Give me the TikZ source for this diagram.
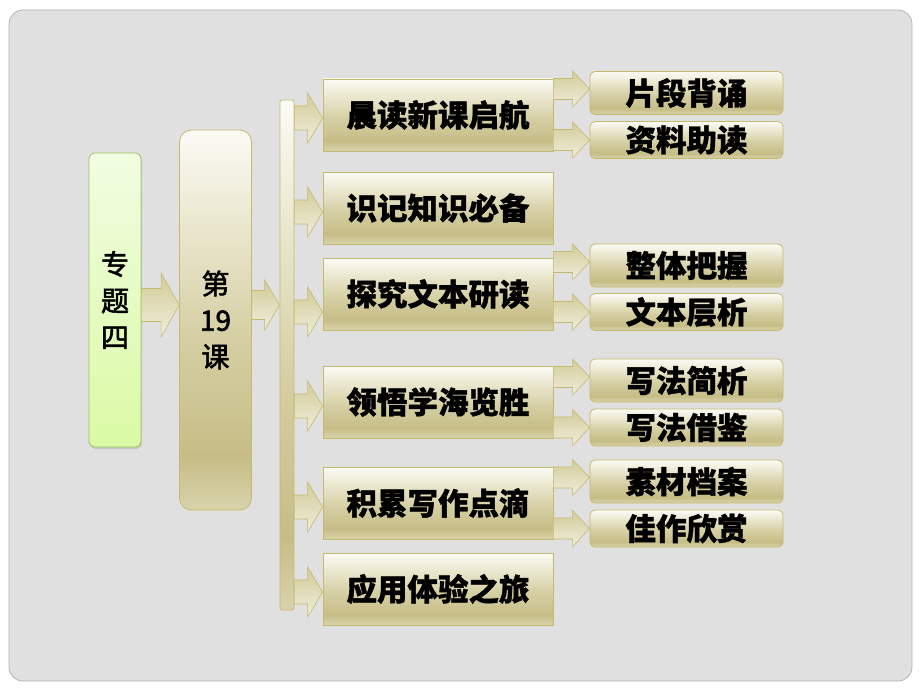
\documentclass[tikz,border=0pt]{standalone}
\usepackage{fontspec}
\newfontfamily\cjk{Noto Sans CJK SC}[BoldFeatures={FakeBold=1.2}]
\newfontfamily\cjkmed{Noto Sans CJK SC}[FakeBold=2]
\usetikzlibrary{calc,shadows}
\definecolor{kA}{HTML}{FBFBF6}
\definecolor{kB}{HTML}{EEEBD6}
\definecolor{kC}{HTML}{D5CEA2}
\definecolor{kD}{HTML}{C6BD86}
\definecolor{kE}{HTML}{D9D3AC}
\definecolor{bdr}{HTML}{C4BA6E}
\definecolor{arrT}{HTML}{D2CB98}
\definecolor{arrB}{HTML}{F0EEDC}
\definecolor{gT}{HTML}{F1FDE2}
\definecolor{gB}{HTML}{DAFAA4}
\definecolor{gbdr}{HTML}{9EC263}
\definecolor{panel}{HTML}{E0E0E0}
\definecolor{panelbd}{HTML}{B4B4B4}
\pgfdeclareverticalshading{khakibox}{100bp}{color(0bp)=(kE); color(25bp)=(kE); color(32bp)=(kD); color(47bp)=(kC); color(65bp)=(kB); color(75bp)=(kA); color(100bp)=(kA)}
\newcommand\blockarrow[5]{%
  \path[arrowsty] let \p1=(#1), \p2=(#2) in
    (\x1,{\y2+#3}) -- ({\x2-#5},{\y2+#3}) -- ({\x2-#5},{\y2+#4}) -- (\x2,\y2)
    -- ({\x2-#5},{\y2-#4}) -- ({\x2-#5},{\y2-#3}) -- (\x1,{\y2-#3}) -- cycle;}
\tikzset{
  arrowsty/.style={draw=bdr, line width=0.6pt, top color=arrT, bottom color=arrB},
  khaki/.style={draw=bdr, line width=0.8pt, shading=khakibox, inner sep=0pt},
  mainbox/.style={khaki, minimum width=230pt, minimum height=72pt,
    font=\cjk\bfseries\fontsize{30.5}{31}\selectfont},
  subbox/.style={khaki, rounded corners=5pt, minimum width=193pt,
    font=\cjk\bfseries\fontsize{30.5}{31}\selectfont},
  subtop/.style={subbox, minimum height=43pt},
  subbot/.style={subbox, minimum height=37pt},
  coltext/.style={align=center, font=\cjkmed\fontsize{28}{36.5}\selectfont},
}
\begin{document}
\begin{tikzpicture}[x=1pt,y=-1pt]
\useasboundingbox (0,0) rectangle (920,690);
\fill[white] (0,0) rectangle (920,690);
\path[fill=panel, draw=panelbd, line width=0.8pt, rounded corners=14pt] (9,10) rectangle (912,681);

% left column
\node[draw=gbdr, line width=0.8pt, top color=gT, bottom color=gB, rounded corners=6pt,
  minimum width=52pt, minimum height=294pt, inner sep=0pt,
  drop shadow={opacity=0.25, shadow xshift=1pt, shadow yshift=-2pt},
  coltext] (g) at (115,300) {专\\题\\四};
\node[khaki, rounded corners=12pt, minimum width=72pt, minimum height=380pt,
  coltext] (k) at (215.5,320) {第\\19\\课};
\node[khaki, rounded corners=2pt, minimum width=14pt, minimum height=510pt] (bar) at (287,355) {};

% main boxes
\node[mainbox] (m1) at (438,115) {晨读新课启航};
\node[mainbox] (m2) at (438,208) {识记知识必备};
\node[mainbox] (m3) at (438,294) {探究文本研读};
\node[mainbox] (m4) at (438,402) {领悟学海览胜};
\node[mainbox] (m5) at (438,503) {积累写作点滴};
\node[mainbox] (m6) at (438,589) {应用体验之旅};

% sub boxes
\node[subtop] (sa1) at (686.5,93) {片段背诵};
\node[subbot] (sa2) at (686.5,140) {资料助读};
\node[subtop] (sb1) at (686.5,265.5) {整体把握};
\node[subbot] (sb2) at (686.5,312) {文本层析};
\node[subtop] (sc1) at (686.5,380.5) {写法简析};
\node[subbot] (sc2) at (686.5,427.5) {写法借鉴};
\node[subtop] (sd1) at (686.5,481.5) {素材档案};
\node[subbot] (sd2) at (686.5,528.5) {佳作欣赏};

% big arrows
\blockarrow{g.east}{[yshift=15pt]k.west}{16.5pt}{32pt}{18pt}
\blockarrow{k.east}{[yshift=50pt]bar.west}{14.5pt}{25pt}{15pt}

% arrows from bar
\blockarrow{bar.east}{[yshift=-3pt]m1.west}{12pt}{25pt}{15pt}
\blockarrow{bar.east}{[yshift=-4pt]m2.west}{12pt}{25pt}{15pt}
\blockarrow{bar.east}{[yshift=-18pt]m3.west}{12pt}{25pt}{15pt}
\blockarrow{bar.east}{[yshift=-4pt]m4.west}{12pt}{25pt}{15pt}
\blockarrow{bar.east}{[yshift=-4pt]m5.west}{12pt}{25pt}{15pt}
\blockarrow{bar.east}{[yshift=-3pt]m6.west}{12pt}{25pt}{15pt}

% arrows to sub boxes
\blockarrow{m1.east}{[yshift=4pt]sa1.west}{10.5pt}{18pt}{17pt}
\blockarrow{m1.east}{sa2.west}{10.5pt}{18pt}{17pt}
\blockarrow{m3.east}{[yshift=3.5pt]sb1.west}{10.5pt}{18pt}{17pt}
\blockarrow{m3.east}{sb2.west}{10.5pt}{18pt}{17pt}
\blockarrow{m4.east}{[yshift=3.5pt]sc1.west}{10.5pt}{18pt}{17pt}
\blockarrow{m4.east}{sc2.west}{10.5pt}{18pt}{17pt}
\blockarrow{m5.east}{[yshift=4pt]sd1.west}{10.5pt}{18pt}{17pt}
\blockarrow{m5.east}{sd2.west}{10.5pt}{18pt}{17pt}
\end{tikzpicture}
\end{document}
